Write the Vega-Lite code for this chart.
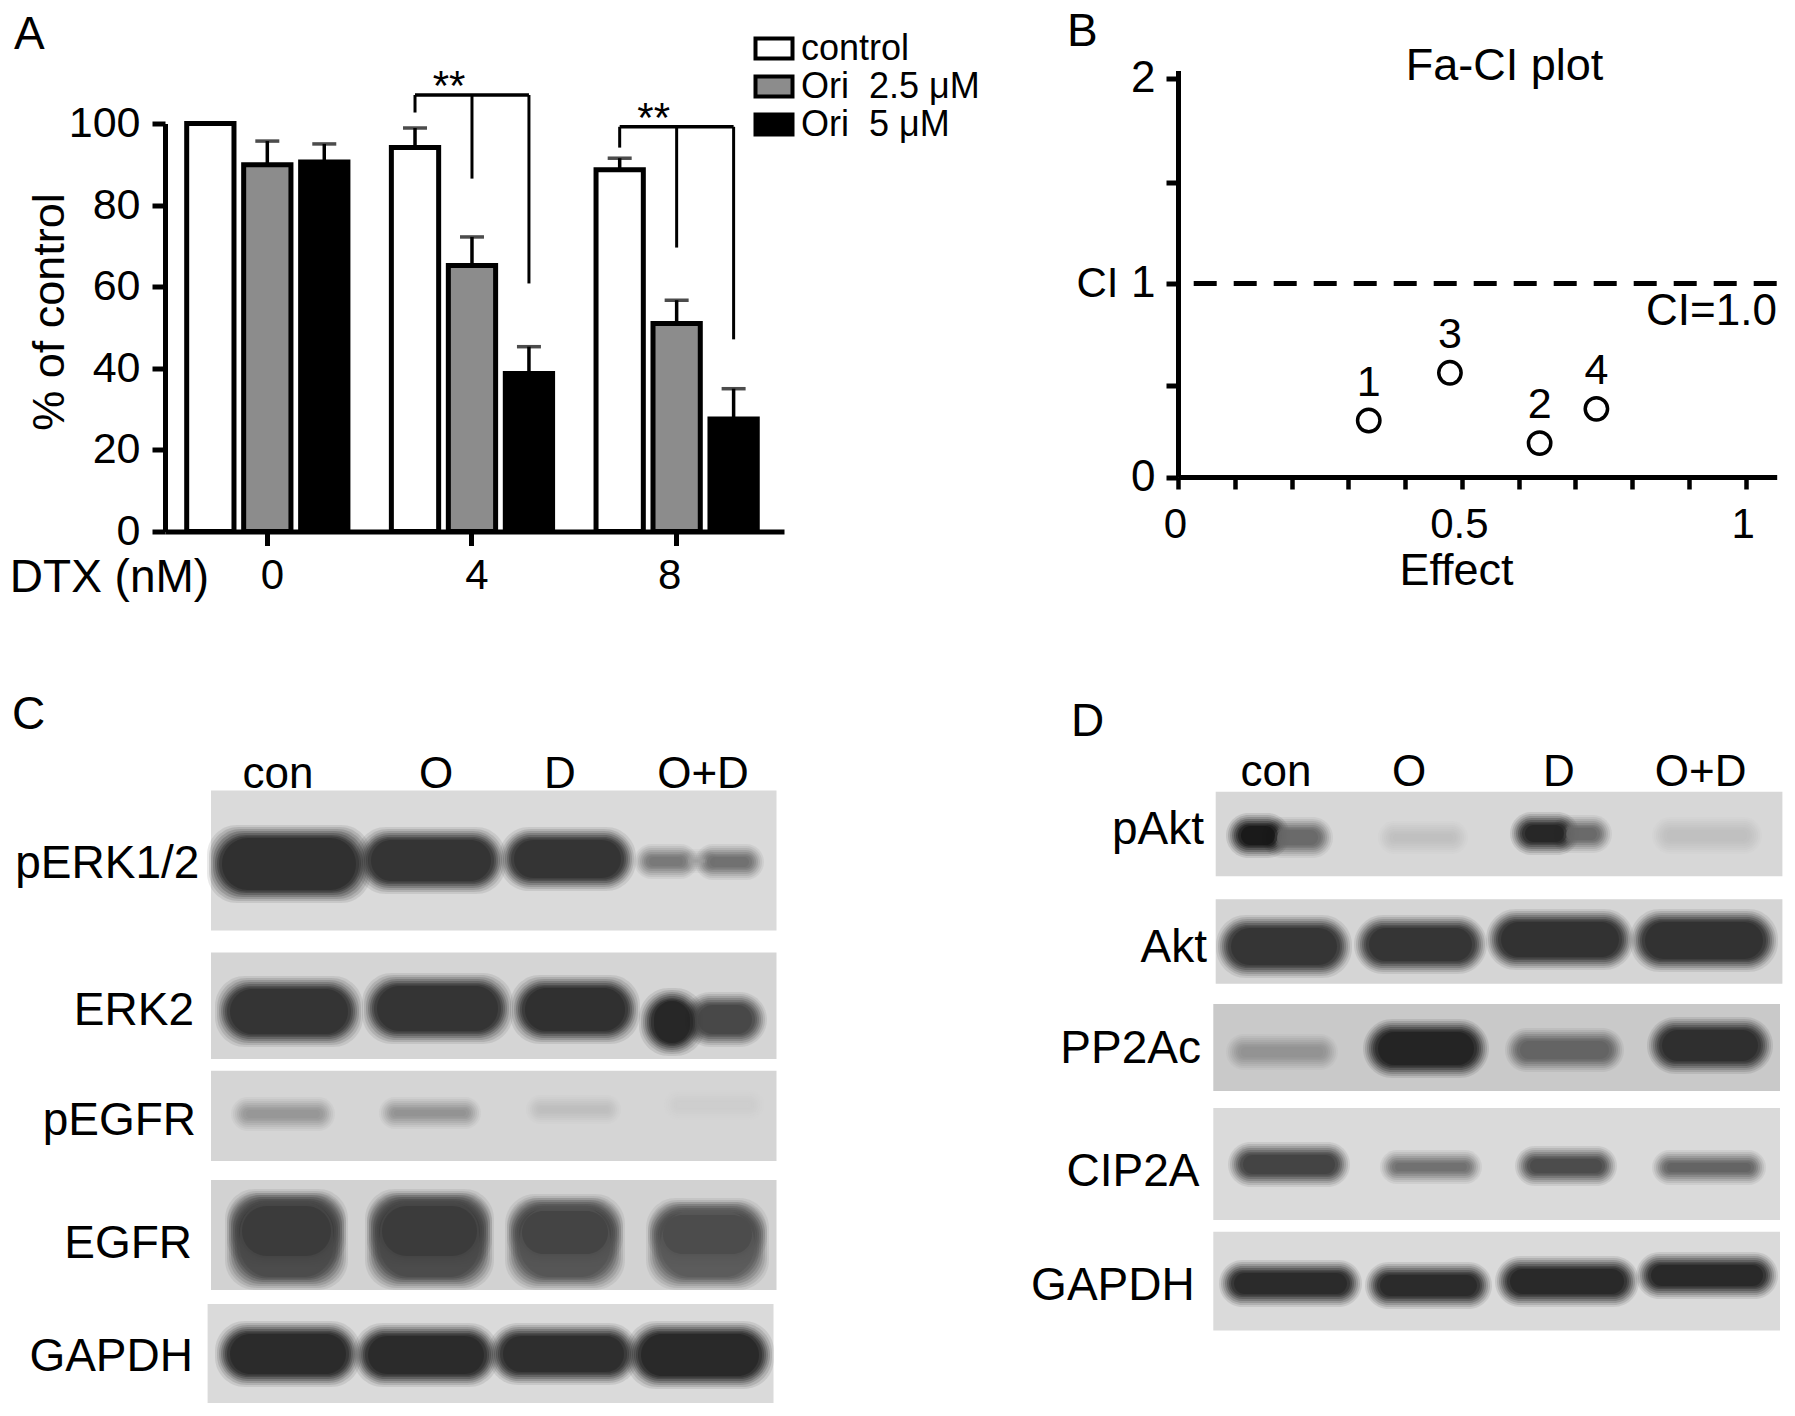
{
"$schema":"https://vega.github.io/schema/vega-lite/v6.json",
"background":"white",
"padding":{"left":9,"top":8.5,"right":0,"bottom":0},
"columns":2,
"bounds":"flush",
"spacing":{"row":258.5,"column":394},
"config":{"view":{"stroke":null},"font":"Liberation Sans",
 "axis":{"grid":false,"domainColor":"black","tickColor":"black","labelColor":"black","titleColor":"black","labelFont":"Liberation Sans","titleFont":"Liberation Sans","titleFontWeight":"normal"},
 "text":{"font":"Liberation Sans","color":"black"},
 "title":{"font":"Liberation Sans","fontWeight":"normal","color":"black"}},
"datasets":{
 "bars":[
  {"dtx":"0","series":"control","value":100},
  {"dtx":"0","series":"Ori\u00a0\u00a02.5 μM","value":89.9,"err":95.7},
  {"dtx":"0","series":"Ori\u00a0\u00a05 μM","value":90.6,"err":95.0},
  {"dtx":"4","series":"control","value":94.1,"err":98.9,"top":107,"tip":102.7},
  {"dtx":"4","series":"Ori\u00a0\u00a02.5 μM","value":65.2,"err":72.2,"top":107,"tip":86.5},
  {"dtx":"4","series":"Ori\u00a0\u00a05 μM","value":38.7,"err":45.3,"top":107,"tip":60.8},
  {"dtx":"8","series":"control","value":88.7,"err":91.5,"top":99.2,"tip":94.1},
  {"dtx":"8","series":"Ori\u00a0\u00a02.5 μM","value":51,"err":56.7,"top":99.2,"tip":69.6},
  {"dtx":"8","series":"Ori\u00a0\u00a05 μM","value":27.6,"err":35,"top":99.2,"tip":47.1}
 ],
 "blotsC":[
  {"blot":"pERK1/2","x1":211,"x2":776.5,"y1":790.4,"y2":930.6,"density":0.05},
  {"blot":"ERK2","x1":211,"x2":776.5,"y1":952.5,"y2":1059,"density":0.07},
  {"blot":"pEGFR","x1":211,"x2":776.5,"y1":1070.8,"y2":1161,"density":0.07},
  {"blot":"EGFR","x1":211,"x2":776.5,"y1":1180,"y2":1290,"density":0.08},
  {"blot":"GAPDH","x1":207.6,"x2":773.5,"y1":1304,"y2":1403,"density":0.05}
 ],
 "bandsC":[
  {"blot":"pERK1/2","lane":"con","x1":214,"x2":364,"y1":832,"y2":896,"density":0.85},
  {"blot":"pERK1/2","lane":"O","x1":363,"x2":499,"y1":834,"y2":887,"density":0.83},
  {"blot":"pERK1/2","lane":"D","x1":506,"x2":629,"y1":834,"y2":884,"density":0.83},
  {"blot":"pERK1/2","lane":"O+D","x1":641,"x2":691,"y1":851,"y2":872,"density":0.48},
  {"blot":"pERK1/2","lane":"O+D","x1":685,"x2":710,"y1":856,"y2":866,"density":0.3},
  {"blot":"pERK1/2","lane":"O+D","x1":702,"x2":757,"y1":851,"y2":873,"density":0.52},
  {"blot":"ERK2","lane":"con","x1":222,"x2":356,"y1":983,"y2":1040,"density":0.83},
  {"blot":"ERK2","lane":"O","x1":369,"x2":506,"y1":980,"y2":1037,"density":0.83},
  {"blot":"ERK2","lane":"D","x1":517,"x2":633,"y1":982,"y2":1037,"density":0.85},
  {"blot":"ERK2","lane":"O+D","x1":690,"x2":760,"y1":999,"y2":1040,"density":0.72},
  {"blot":"ERK2","lane":"O+D","x1":646,"x2":698,"y1":995,"y2":1049,"density":0.9},
  {"blot":"pEGFR","lane":"con","x1":238,"x2":328,"y1":1104,"y2":1124,"density":0.34},
  {"blot":"pEGFR","lane":"O","x1":386,"x2":474,"y1":1104,"y2":1122,"density":0.36},
  {"blot":"pEGFR","lane":"D","x1":533,"x2":614,"y1":1102,"y2":1117,"density":0.17},
  {"blot":"pEGFR","lane":"O+D","x1":671,"x2":757,"y1":1097,"y2":1113,"density":0.1},
  {"blot":"EGFR","lane":"con","x1":232,"x2":341,"y1":1196,"y2":1283,"density":0.7},
  {"blot":"EGFR","lane":"O","x1":372,"x2":487,"y1":1196,"y2":1283,"density":0.7},
  {"blot":"EGFR","lane":"D","x1":512,"x2":618,"y1":1201,"y2":1283,"density":0.65},
  {"blot":"EGFR","lane":"O+D","x1":653,"x2":762,"y1":1205,"y2":1283,"density":0.62},
  {"blot":"EGFR","lane":"con","x1":234,"x2":339,"y1":1200,"y2":1262,"density":0.78},
  {"blot":"EGFR","lane":"O","x1":374,"x2":485,"y1":1200,"y2":1262,"density":0.78},
  {"blot":"EGFR","lane":"D","x1":514,"x2":616,"y1":1205,"y2":1260,"density":0.74},
  {"blot":"EGFR","lane":"O+D","x1":655,"x2":760,"y1":1209,"y2":1260,"density":0.7},
  {"blot":"GAPDH","lane":"con","x1":222,"x2":354,"y1":1328,"y2":1380,"density":0.88},
  {"blot":"GAPDH","lane":"O","x1":360,"x2":492,"y1":1330,"y2":1380,"density":0.88},
  {"blot":"GAPDH","lane":"D","x1":495,"x2":632,"y1":1330,"y2":1378,"density":0.86},
  {"blot":"GAPDH","lane":"O+D","x1":633,"x2":767,"y1":1328,"y2":1382,"density":0.89}
 ],
 "labelsC":[
  {"text":"pERK1/2","x":199.4,"y":861},{"text":"ERK2","x":194,"y":1008},{"text":"pEGFR","x":196,"y":1118},{"text":"EGFR","x":192,"y":1241},{"text":"GAPDH","x":193,"y":1354}
 ],
 "lanesC":[
  {"text":"con","x":278,"y":771},{"text":"O","x":436,"y":771},{"text":"D","x":560,"y":771},{"text":"O+D","x":703,"y":771}
 ],
 "blotsD":[
  {"blot":"pAkt","x1":1215.7,"x2":1782.4,"y1":791.8,"y2":876.3,"density":0.06},
  {"blot":"Akt","x1":1215.7,"x2":1782.4,"y1":899.2,"y2":983.7,"density":0.07},
  {"blot":"PP2Ac","x1":1213.3,"x2":1780,"y1":1004,"y2":1091,"density":0.12},
  {"blot":"CIP2A","x1":1213.3,"x2":1780,"y1":1108,"y2":1220,"density":0.05},
  {"blot":"GAPDH","x1":1213.3,"x2":1780,"y1":1231.8,"y2":1330.6,"density":0.05}
 ],
 "bandsD":[
  {"blot":"pAkt","lane":"con","x1":1269,"x2":1326,"y1":824,"y2":851,"density":0.55},
  {"blot":"pAkt","lane":"con","x1":1233,"x2":1283,"y1":820,"y2":851,"density":0.98},
  {"blot":"pAkt","lane":"O","x1":1385,"x2":1461,"y1":828,"y2":847,"density":0.16},
  {"blot":"pAkt","lane":"D","x1":1558,"x2":1605,"y1":822,"y2":846,"density":0.55},
  {"blot":"pAkt","lane":"D","x1":1517,"x2":1572,"y1":819,"y2":848,"density":0.9},
  {"blot":"pAkt","lane":"O+D","x1":1659,"x2":1755,"y1":824,"y2":847,"density":0.16},
  {"blot":"Akt","lane":"con","x1":1223,"x2":1345,"y1":922,"y2":971,"density":0.82},
  {"blot":"Akt","lane":"O","x1":1361,"x2":1480,"y1":922,"y2":967,"density":0.82},
  {"blot":"Akt","lane":"D","x1":1493,"x2":1627,"y1":916,"y2":963,"density":0.84},
  {"blot":"Akt","lane":"O+D","x1":1637,"x2":1771,"y1":916,"y2":965,"density":0.84},
  {"blot":"PP2Ac","lane":"con","x1":1233,"x2":1331,"y1":1041,"y2":1063,"density":0.36},
  {"blot":"PP2Ac","lane":"O","x1":1370,"x2":1482,"y1":1026,"y2":1071,"density":0.92},
  {"blot":"PP2Ac","lane":"D","x1":1512,"x2":1617,"y1":1035,"y2":1065,"density":0.58},
  {"blot":"PP2Ac","lane":"O+D","x1":1654,"x2":1766,"y1":1024,"y2":1067,"density":0.85},
  {"blot":"CIP2A","lane":"con","x1":1235,"x2":1343,"y1":1149,"y2":1180,"density":0.74},
  {"blot":"CIP2A","lane":"O","x1":1387,"x2":1475,"y1":1157,"y2":1177,"density":0.52},
  {"blot":"CIP2A","lane":"D","x1":1522,"x2":1610,"y1":1153,"y2":1179,"density":0.7},
  {"blot":"CIP2A","lane":"O+D","x1":1659,"x2":1759,"y1":1157,"y2":1178,"density":0.58},
  {"blot":"GAPDH","lane":"con","x1":1226,"x2":1355,"y1":1267,"y2":1300,"density":0.88},
  {"blot":"GAPDH","lane":"O","x1":1372,"x2":1485,"y1":1269,"y2":1302,"density":0.88},
  {"blot":"GAPDH","lane":"D","x1":1502,"x2":1632,"y1":1263,"y2":1300,"density":0.89},
  {"blot":"GAPDH","lane":"O+D","x1":1643,"x2":1771,"y1":1259,"y2":1292,"density":0.89}
 ],
 "labelsD":[
  {"text":"pAkt","x":1204,"y":827},{"text":"Akt","x":1207,"y":945},{"text":"PP2Ac","x":1201,"y":1046},{"text":"CIP2A","x":1199.5,"y":1169},{"text":"GAPDH","x":1194.7,"y":1283}
 ],
 "lanesD":[
  {"text":"con","x":1276,"y":771},{"text":"O","x":1409,"y":771},{"text":"D","x":1559,"y":771},{"text":"O+D","x":1700.6,"y":771}
 ]
},
"concat":[
 {
  "width":619,"height":461,
  "title":{"text":"A","anchor":"start","frame":"group","fontSize":46,"dx":-151,"offset":-28},
  "data":{"name":"bars"},
  "encoding":{
   "x":{"field":"dtx","type":"nominal","sort":["0","4","8"],
    "scale":{"paddingInner":0.1956,"paddingOuter":0.11,"align":0.444},
    "axis":{"title":"DTX (nM)","titleFontSize":46,"titleX":-56,"titleY":46,"titleBaseline":"middle","titleAlign":"center","labelFontSize":42,"labelAngle":0,"labelPadding":10,"tickSize":14,"tickWidth":5,"domainWidth":5,"labelOffset":{"condition":{"test":"datum.value==='8'","value":-7},"value":5}}},
    "xOffset":{"field":"series","type":"nominal","sort":["control","Ori\u00a0\u00a02.5 μM","Ori\u00a0\u00a05 μM"],"scale":{"paddingInner":0.17,"paddingOuter":0.03}}
  },
  "layer":[
   {"mark":{"type":"bar","stroke":"black","strokeWidth":5},
    "encoding":{
     "y":{"field":"value","type":"quantitative","scale":{"domain":[0,113],"nice":false},
      "axis":{"title":"% of control","titleFontSize":45,"titleX":-116,"titleY":241,"titleBaseline":"middle","titleAlign":"center","values":[0,20,40,60,80,100],"labelFontSize":43,"labelFlush":false,"labelPadding":12,"tickSize":13,"tickWidth":5,"domainWidth":5,"domainDash":[408,1000]}},
     "color":{"field":"series","type":"nominal","sort":["control","Ori\u00a0\u00a02.5 μM","Ori\u00a0\u00a05 μM"],
      "scale":{"domain":["control","Ori\u00a0\u00a02.5 μM","Ori\u00a0\u00a05 μM"],"range":["white","#8c8c8c","black"]},
      "legend":{"title":null,"orient":"none","legendX":591,"legendY":-40,"labelFontSize":36,"labelFont":"Liberation Sans","labelColor":"black","labelOffset":9,"labelLimit":400,"rowPadding":2,"symbolType":"M-1.85,-1H1.85V1H-1.85Z","symbolSize":400,"symbolStrokeColor":"black","symbolStrokeWidth":4,"symbolFillColor":"white"}}}},
   {"transform":[{"filter":"isValid(datum.err)"}],"mark":{"type":"rule","color":"black","strokeWidth":3.5},
    "encoding":{"y":{"field":"value","type":"quantitative"},"y2":{"field":"err"}}},
   {"transform":[{"filter":"isValid(datum.err)"}],"mark":{"type":"tick","orient":"horizontal","color":"black","size":24,"thickness":3.5},
    "encoding":{"y":{"field":"err","type":"quantitative"}}},
   {"transform":[{"filter":"isValid(datum.top)"}],"mark":{"type":"rule","color":"black","strokeWidth":3},
    "encoding":{"y":{"field":"top","type":"quantitative"},"y2":{"field":"tip"}}},
   {"transform":[{"filter":"isValid(datum.top) && datum.series!=='Ori\u00a0\u00a02.5 μM'"}],"mark":{"type":"line","color":"black","strokeWidth":3.5},
    "encoding":{"y":{"field":"top","type":"quantitative"},"detail":{"field":"dtx"}}},
   {"transform":[{"filter":"isValid(datum.top) && datum.series==='Ori\u00a0\u00a02.5 μM'"}],"mark":{"type":"text","text":"**","fontSize":42,"dx":-23,"dy":14,"baseline":"bottom"},
    "encoding":{"y":{"field":"top","type":"quantitative"}}}
  ]
 },
 {
  "width":598.7,"height":406.5,
  "title":{"text":"B","anchor":"start","frame":"group","fontSize":46,"dx":-111,"offset":-12},
  "layer":[
   {"data":{"values":[{"ci":1}]},"mark":{"type":"rule","color":"black","strokeWidth":5,"strokeDash":[23,17]},
    "encoding":{"y":{"field":"ci","type":"quantitative","scale":{"domain":[0,0.5,1,1.5,2,2.04],"range":[406.5,315.4,213,112,8,0],"nice":false,"zero":false},
     "axis":{"title":"CI","titleAngle":0,"titleFontSize":42,"titleX":-81,"titleY":213,"titleBaseline":"middle","titleAlign":"center","values":[0,0.5,1,1.5,2],"labelExpr":"datum.value==0?'0':datum.value==1?'1':datum.value==2?'2':''","labelFontSize":44,"labelFlush":false,"labelPadding":11,"tickSize":12,"tickWidth":5,"domainWidth":5}}}},
   {"data":{"values":[{"e":0.336,"ci":0.31,"n":"1"},{"e":0.637,"ci":0.186,"n":"2"},{"e":0.479,"ci":0.564,"n":"3"},{"e":0.737,"ci":0.374,"n":"4"}]},
    "encoding":{"x":{"field":"e","type":"quantitative","scale":{"domain":[0,1.0546],"nice":false},
      "axis":{"title":"Effect","titleFontSize":45,"titleX":278,"titleY":93,"titleBaseline":"middle","titleAlign":"center","values":[0,0.1,0.2,0.3,0.4,0.5,0.6,0.7,0.8,0.9,1],"labelExpr":"datum.value==0?'0':datum.value==0.5?'0.5':datum.value==1?'1':''","labelOverlap":false,"labelFlush":false,"labelFontSize":42,"labelPadding":15,"labelOffset":-3,"tickSize":12,"tickWidth":4.5,"domainWidth":5}},
     "y":{"field":"ci","type":"quantitative"}},
    "layer":[
     {"mark":{"type":"point","shape":"circle","filled":false,"stroke":"black","strokeWidth":3.5,"size":500,"opacity":1}},
     {"mark":{"type":"text","fontSize":43,"dy":-38},"encoding":{"text":{"field":"n"}}}
    ]},
   {"data":{"values":[{"e":1.055,"ci":0.86,"t":"CI=1.0"}]},"mark":{"type":"text","fontSize":44,"align":"right"},
    "encoding":{"x":{"field":"e","type":"quantitative"},"y":{"field":"ci","type":"quantitative"},"text":{"field":"t"}}},
   {"data":{"values":[{"e":0.575,"ci":2.03,"t":"Fa-CI plot"}]},"mark":{"type":"text","fontSize":45,"dy":-7},
    "encoding":{"x":{"field":"e","type":"quantitative"},"y":{"field":"ci","type":"quantitative"},"text":{"field":"t"}}}
  ]
 },
 {
  "width":619,"height":626,
  "title":{"text":"C","anchor":"start","frame":"group","fontSize":46,"dx":-153,"offset":14.5},
  "encoding":{
   "x":{"field":"x1","type":"quantitative","scale":{"domain":[165,784],"nice":false,"zero":false},"axis":null},
   "y":{"field":"y1","type":"quantitative","scale":{"domain":[790,1416],"reverse":true,"nice":false,"zero":false},"axis":null},
   "x2":{"field":"x2"},"y2":{"field":"y2"},
   "color":{"field":"density","type":"quantitative","scale":{"domain":[0,1],"range":["#e6e6e6","#101010"]},"legend":null}
  },
  "layer":[
   {"data":{"name":"blotsC"},"mark":{"type":"rect"}},
   {"data":{"name":"bandsC"},"mark":{"type":"rect","opacity":0.1,"cornerRadius":30,"xOffset":-7,"x2Offset":7,"yOffset":-7,"y2Offset":7}},
   {"data":{"name":"bandsC"},"mark":{"type":"rect","opacity":0.14,"cornerRadius":30,"xOffset":-5,"x2Offset":5,"yOffset":-5,"y2Offset":5}},
   {"data":{"name":"bandsC"},"mark":{"type":"rect","opacity":0.18,"cornerRadius":30,"xOffset":-3,"x2Offset":3,"yOffset":-3,"y2Offset":3}},
   {"data":{"name":"bandsC"},"mark":{"type":"rect","opacity":0.24,"cornerRadius":30,"xOffset":-1,"x2Offset":1,"yOffset":-1,"y2Offset":1}},
   {"data":{"name":"bandsC"},"mark":{"type":"rect","opacity":0.3,"cornerRadius":30,"xOffset":1,"x2Offset":-1,"yOffset":1,"y2Offset":-1}},
   {"data":{"name":"bandsC"},"mark":{"type":"rect","opacity":0.38,"cornerRadius":30,"xOffset":3,"x2Offset":-3,"yOffset":3,"y2Offset":-3}},
   {"data":{"name":"bandsC"},"mark":{"type":"rect","opacity":0.5,"cornerRadius":30,"xOffset":5,"x2Offset":-5,"yOffset":4.5,"y2Offset":-4.5}},
   {"data":{"name":"bandsC"},"mark":{"type":"rect","opacity":0.7,"cornerRadius":30,"xOffset":8,"x2Offset":-8,"yOffset":6,"y2Offset":-6}},
   {"data":{"name":"labelsC"},"mark":{"type":"text","fontSize":46,"align":"right","dy":3},
    "encoding":{"x":{"field":"x","type":"quantitative"},"y":{"field":"y","type":"quantitative"},"x2":null,"y2":null,"color":{"value":"black"},"text":{"field":"text"}}},
   {"data":{"name":"lanesC"},"mark":{"type":"text","fontSize":44,"dy":4},
    "encoding":{"x":{"field":"x","type":"quantitative"},"y":{"field":"y","type":"quantitative"},"x2":null,"y2":null,"color":{"value":"black"},"text":{"field":"text"}}}
  ]
 },
 {
  "width":604.4,"height":626,
  "title":{"text":"D","anchor":"start","frame":"group","fontSize":46,"dx":-107,"offset":5.5},
  "encoding":{
   "x":{"field":"x1","type":"quantitative","scale":{"domain":[1178,1782.4],"nice":false,"zero":false},"axis":null},
   "y":{"field":"y1","type":"quantitative","scale":{"domain":[790,1416],"reverse":true,"nice":false,"zero":false},"axis":null},
   "x2":{"field":"x2"},"y2":{"field":"y2"},
   "color":{"field":"density","type":"quantitative","scale":{"domain":[0,1],"range":["#e6e6e6","#101010"]},"legend":null}
  },
  "layer":[
   {"data":{"name":"blotsD"},"mark":{"type":"rect"}},
   {"data":{"name":"bandsD"},"mark":{"type":"rect","opacity":0.1,"cornerRadius":30,"xOffset":-7,"x2Offset":7,"yOffset":-7,"y2Offset":7}},
   {"data":{"name":"bandsD"},"mark":{"type":"rect","opacity":0.14,"cornerRadius":30,"xOffset":-5,"x2Offset":5,"yOffset":-5,"y2Offset":5}},
   {"data":{"name":"bandsD"},"mark":{"type":"rect","opacity":0.18,"cornerRadius":30,"xOffset":-3,"x2Offset":3,"yOffset":-3,"y2Offset":3}},
   {"data":{"name":"bandsD"},"mark":{"type":"rect","opacity":0.24,"cornerRadius":30,"xOffset":-1,"x2Offset":1,"yOffset":-1,"y2Offset":1}},
   {"data":{"name":"bandsD"},"mark":{"type":"rect","opacity":0.3,"cornerRadius":30,"xOffset":1,"x2Offset":-1,"yOffset":1,"y2Offset":-1}},
   {"data":{"name":"bandsD"},"mark":{"type":"rect","opacity":0.38,"cornerRadius":30,"xOffset":3,"x2Offset":-3,"yOffset":3,"y2Offset":-3}},
   {"data":{"name":"bandsD"},"mark":{"type":"rect","opacity":0.5,"cornerRadius":30,"xOffset":5,"x2Offset":-5,"yOffset":4.5,"y2Offset":-4.5}},
   {"data":{"name":"bandsD"},"mark":{"type":"rect","opacity":0.7,"cornerRadius":30,"xOffset":8,"x2Offset":-8,"yOffset":6,"y2Offset":-6}},
   {"data":{"name":"labelsD"},"mark":{"type":"text","fontSize":46,"align":"right","dy":3},
    "encoding":{"x":{"field":"x","type":"quantitative"},"y":{"field":"y","type":"quantitative"},"x2":null,"y2":null,"color":{"value":"black"},"text":{"field":"text"}}},
   {"data":{"name":"lanesD"},"mark":{"type":"text","fontSize":44,"dy":2},
    "encoding":{"x":{"field":"x","type":"quantitative"},"y":{"field":"y","type":"quantitative"},"x2":null,"y2":null,"color":{"value":"black"},"text":{"field":"text"}}}
  ]
 }
]
}
